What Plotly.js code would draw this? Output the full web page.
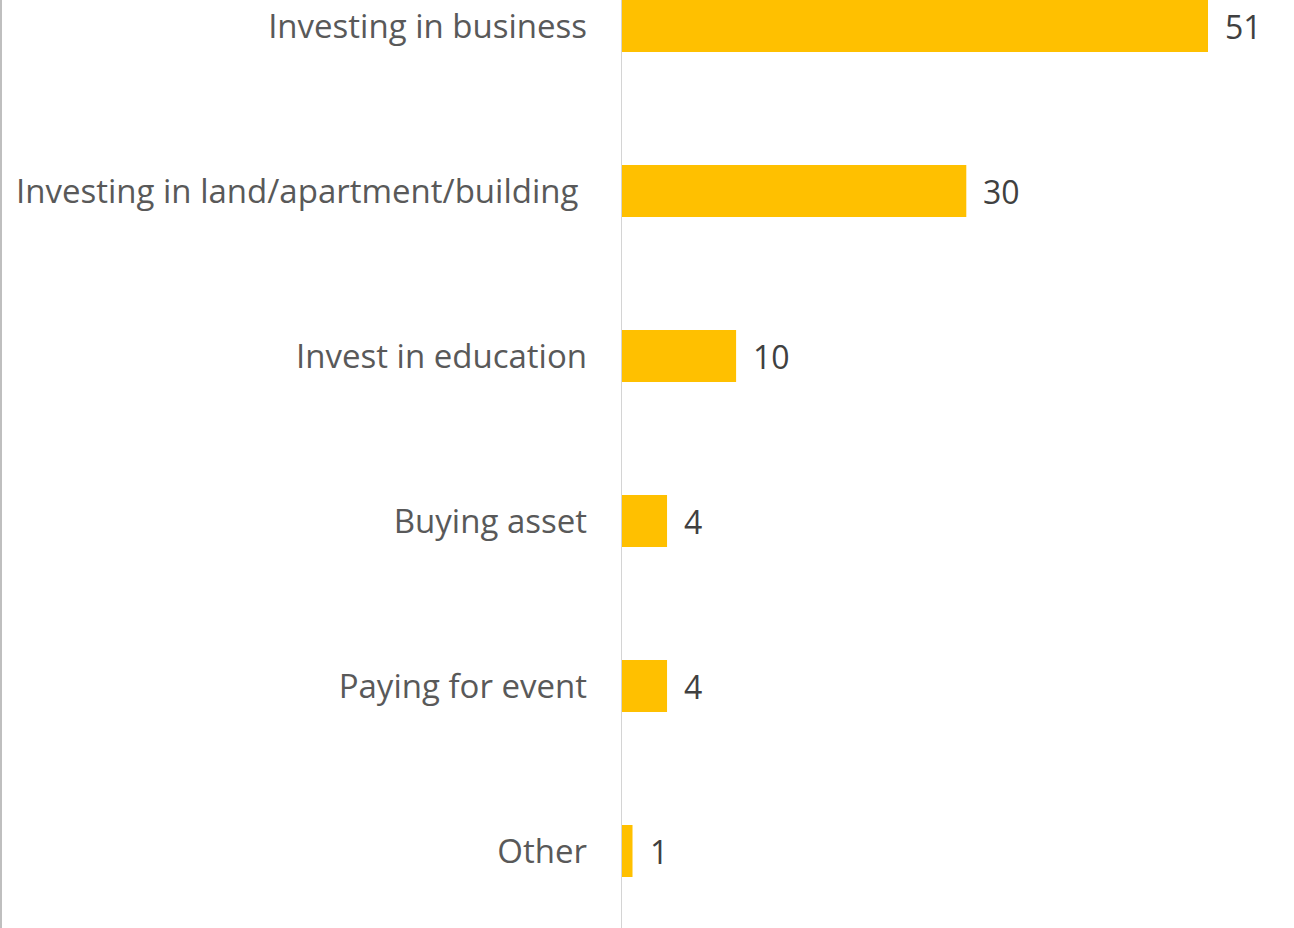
<!DOCTYPE html>
<html><head><meta charset="utf-8">
<script src="https://cdn.plot.ly/plotly-3.0.1.min.js"></script>
<style>html,body{margin:0;padding:0;background:#fff}#chart{width:1294px;height:928px}</style>
</head><body><div id="chart"></div>
<script>
const categories = ["Investing in business", "Investing in land/apartment/building\u00a0", "Invest in education", "Buying asset", "Paying for event", "Other"];
const values = [51, 30, 10, 4, 4, 1];

const FONT = "Open Sans";
const annotations = categories.map((c, i) => ({
  x: values[i], y: c, xref: 'x', yref: 'y', text: String(values[i]),
  showarrow: false, xanchor: 'left', xshift: 15,
  font: {family: FONT, size: 32, color: '#404040'}
}));

const trace = {
  type: 'bar', orientation: 'h', x: values, y: categories,
  width: 0.315, marker: {color: '#FFC000'}, hoverinfo: 'none'
};

const layout = {
  width: 1294, height: 928,
  margin: {l: 621, r: 0, t: 0, b: 0},
  paper_bgcolor: '#fff', plot_bgcolor: '#fff',
  showlegend: false,
  xaxis: {range: [0, 673 / 11.51], visible: false, fixedrange: true},
  yaxis: {
    type: 'category', categoryorder: 'array', categoryarray: categories,
    range: [5 + 77 / 165, -26 / 165],
    showgrid: false, zeroline: false, showline: false, ticks: '',
    ticklabelstandoff: 33,
    tickfont: {family: FONT, size: 33, color: '#595959'}
  },
  shapes: [
    {type: 'line', xref: 'x', yref: 'paper', x0: 0, x1: 0, y0: 0, y1: 1, line: {color: '#d4d4d4', width: 2}},
    {type: 'line', xref: 'paper', yref: 'paper', x0: -621 / 673 + 1/673, x1: -621 / 673 + 1/673, y0: 0, y1: 1, line: {color: '#bfbfbf', width: 2}}
  ],
  annotations: annotations
};

Plotly.newPlot('chart', [trace], layout, {staticPlot: true, displayModeBar: false});
</script></body></html>
